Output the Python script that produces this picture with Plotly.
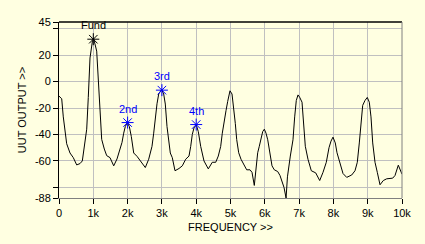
import plotly.graph_objects as go

# Spectrum trace (frequency in Hz, level in dB)
freq = [0, 79, 125, 175, 224, 321, 417, 516, 612, 680, 758, 808, 854, 904, 971, 1010, 1099, 1146,
        1195, 1245, 1321, 1391, 1487, 1545, 1595, 1691, 1788, 1837, 1886, 1933, 1990, 2050, 2108,
        2178, 2274, 2370, 2516, 2615, 2711, 2761, 2808, 2857, 2907, 2990, 3052, 3099, 3149, 3198,
        3245, 3303, 3382, 3499, 3595, 3694, 3790, 3840, 3886, 3936, 4003, 4061, 4131, 4227, 4353,
        4469, 4569, 4644, 4714, 4761, 4810, 4869, 4918, 4985, 5044, 5082, 5140, 5181, 5239, 5306,
        5402, 5472, 5569, 5627, 5694, 5743, 5793, 5840, 5889, 5939, 5986, 6035, 6085, 6152, 6210,
        6277, 6376, 6443, 6522, 6560, 6620, 6660, 6744, 6822, 6871, 6918, 6968, 7017, 7085, 7134,
        7181, 7259, 7356, 7484, 7601, 7697, 7793, 7872, 7930, 7988, 8055, 8105, 8184, 8280, 8388,
        8534, 8630, 8697, 8755, 8796, 8854, 8921, 8988, 9047, 9096, 9146, 9213, 9280, 9359, 9455,
        9554, 9729, 9796, 9892, 9962, 10000]
level = [-11, -13, -26.7, -36, -47, -54, -57.5, -63, -62, -60, -46.4, -36, -12, 17.8, 30, 32.5, 23, -2,
         -26.7, -43.7, -51, -56, -57.5, -61, -63.7, -58.5, -51, -46, -39, -34, -31, -34, -41.5,
         -54, -56.5, -60, -65, -58.7, -49, -39, -26.7, -16.8, -9.4, -6, -9.4, -17, -34, -44,
         -54, -57.5, -67.4, -65.7, -63.7, -58.7, -56.3, -49, -40, -35, -32.8, -37.8, -49, -60, -66,
         -61, -61, -56.3, -49, -39, -30, -22, -15, -7, -9.4, -16.8, -31.6, -43.9, -53.8, -58.7,
         -63.7, -66.7, -66.7, -68.6, -78.5, -66, -53.8, -48.9, -42.7, -37.8, -36, -39, -44, -53.8, -63.7,
         -66.7, -68, -71, -78.5, -80, -88, -72, -56.3, -44, -26.7, -14.3, -10.1, -11.9, -15.6, -31.6,
         -48.9, -58.7, -67.4, -69, -74.8, -68.6, -61, -50, -45, -42, -46.4, -53.8, -61, -69.5, -72.4,
         -70.6, -67.4, -61, -46.4, -34, -18, -14.3, -12, -15.6, -26.7, -46.4, -61, -68.6, -78, -74.8,
         -73.5, -73, -71, -63.2, -67.4, -70]

# Harmonic markers
harm_labels = ["Fund", "2nd", "3rd", "4th"]
harm_freq = [1000, 2000, 3000, 4000]
harm_level = [32, -31, -6.5, -32.5]
harm_colors = ["#000000", "#0000FF", "#0000FF", "#0000FF"]

# Axis ticks
x_ticks = [0, 1000, 2000, 3000, 4000, 5000, 6000, 7000, 8000, 9000, 10000]
x_text = ["0", "1k", "2k", "3k", "4k", "5k", "6k", "7k", "8k", "9k", "10k"]
y_ticks = [45, 40, 20, 0, -20, -40, -60, -80, -88]
y_text = ["45", "", "20", "0", "-20", "-40", "-60", "", "-88"]

BG = "#FFFFE1"
FONT = "Liberation Sans"

fig = go.Figure()
fig.add_trace(go.Scatter(x=freq, y=level, mode="lines",
                         line=dict(color="black", width=1), showlegend=False, hoverinfo="skip"))
fig.add_trace(go.Scatter(x=harm_freq, y=harm_level, mode="markers",
                         marker=dict(symbol="asterisk-open", size=10, color=harm_colors,
                                     line=dict(color=harm_colors, width=1)),
                         showlegend=False, hoverinfo="skip"))

for lab, fx, fy, c in zip(harm_labels, harm_freq, harm_level, harm_colors):
    fig.add_annotation(x=fx, y=fy, text=lab, showarrow=False, yshift=14,
                       font=dict(family=FONT, size=11, color=c))

fig.update_layout(
    width=425, height=244,
    margin=dict(l=59, r=23, t=22, b=40),
    paper_bgcolor=BG, plot_bgcolor=BG,
    font=dict(family=FONT, size=11, color="black"),
    xaxis=dict(range=[0, 10000], tickvals=x_ticks, ticktext=x_text,
               showgrid=True, gridcolor="#C0C0C0", gridwidth=1, zeroline=False,
               showline=True, linecolor="#808080", linewidth=1,
               ticks="outside", ticklen=5, tickcolor="black",
               title=dict(text="FREQUENCY >>", standoff=5,
                          font=dict(family=FONT, size=11))),
    yaxis=dict(range=[-88, 45], tickvals=y_ticks, ticktext=y_text,
               showgrid=True, gridcolor="#C0C0C0", gridwidth=1, zeroline=False,
               showline=True, linecolor="black", linewidth=1,
               ticks="outside", ticklen=5, tickcolor="black",
               title=dict(text="UUT OUTPUT >>", standoff=6,
                          font=dict(family=FONT, size=11))),
    shapes=[
        dict(type="line", xref="paper", yref="paper", x0=0, x1=1, y0=1, y1=1,
             line=dict(color="black", width=1.5)),
        dict(type="line", xref="paper", yref="paper", x0=1, x1=1, y0=0, y1=1,
             line=dict(color="#808080", width=1)),
    ],
)

fig.write_html("out.html")
